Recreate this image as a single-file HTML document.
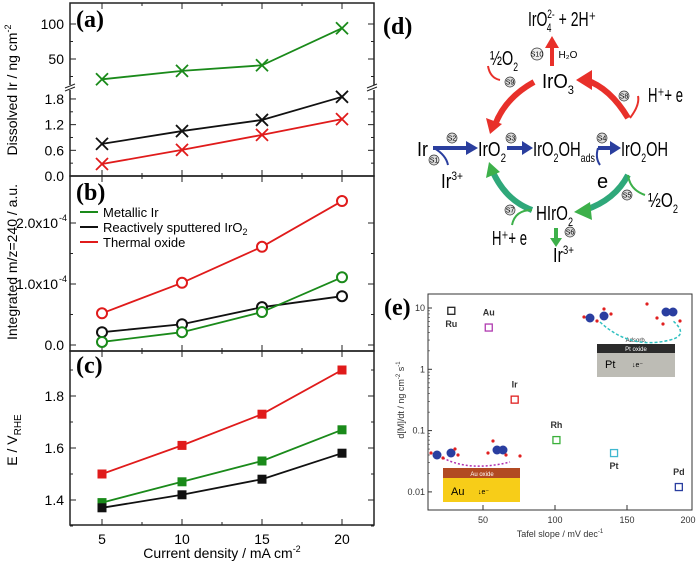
<!DOCTYPE html>
<html><head><meta charset="utf-8"><style>
body{margin:0;background:#fff}
svg{display:block;font-family:"Liberation Sans",sans-serif}
.d{font-family:"Liberation Sans",sans-serif}
.pl{font-family:"Liberation Serif",serif;font-weight:bold;font-size:24px}
</style></head><body>
<svg id="s" width="700" height="562" viewBox="0 0 700 562">
<g id="left"></g>
<g id="d" class="d">
<text x="383" y="34" class="pl">(d)</text>
<text x="528" y="26" font-size="20" textLength="68" lengthAdjust="spacingAndGlyphs">IrO<tspan font-size="12" dy="6" dx="-1">4</tspan><tspan font-size="12" dy="-14" dx="-6">2-</tspan><tspan dy="8"> + 2H⁺</tspan></text>
<text x="542" y="88" font-size="20" textLength="32" lengthAdjust="spacingAndGlyphs">IrO<tspan font-size="12" dy="6">3</tspan></text>
<text x="490" y="65" font-size="20" textLength="28" lengthAdjust="spacingAndGlyphs">½O<tspan font-size="12" dy="6">2</tspan></text>
<text x="648" y="102" font-size="20" textLength="35" lengthAdjust="spacingAndGlyphs">H⁺+ e</text>
<text x="417" y="156" font-size="20" textLength="11" lengthAdjust="spacingAndGlyphs">Ir</text>
<text x="478" y="156" font-size="20" textLength="28" lengthAdjust="spacingAndGlyphs">IrO<tspan font-size="12" dy="6">2</tspan></text>
<text x="533" y="156" font-size="20" textLength="62" lengthAdjust="spacingAndGlyphs">IrO<tspan font-size="12" dy="6">2</tspan><tspan dy="-6">OH</tspan><tspan font-size="12" dy="6">ads</tspan></text>
<text x="621" y="156" font-size="20" textLength="47" lengthAdjust="spacingAndGlyphs">IrO<tspan font-size="12" dy="6">2</tspan><tspan dy="-6">OH</tspan></text>
<text x="597" y="188" font-size="20">e</text>
<text x="441" y="188" font-size="20" textLength="22" lengthAdjust="spacingAndGlyphs">Ir<tspan font-size="12" dy="-8">3+</tspan></text>
<text x="648" y="207" font-size="20" textLength="30" lengthAdjust="spacingAndGlyphs">½O<tspan font-size="12" dy="6">2</tspan></text>
<text x="536" y="220" font-size="20" textLength="37" lengthAdjust="spacingAndGlyphs">HIrO<tspan font-size="12" dy="6">2</tspan></text>
<text x="492" y="245" font-size="20" textLength="35" lengthAdjust="spacingAndGlyphs">H⁺+ e</text>
<text x="553" y="262" font-size="20" textLength="21" lengthAdjust="spacingAndGlyphs">Ir<tspan font-size="12" dy="-8">3+</tspan></text>
<g fill="none" stroke-width="6">
<path d="M628 118 Q610 88 586 80" stroke="#e8302a"/>
<path d="M534 82 Q505 98 495 125" stroke="#e8302a"/>
<path d="M628 175 Q615 200 585 210" stroke="#2fa87a"/>
<path d="M532 210 Q505 200 492 170" stroke="#2fa87a"/>
<path d="M433 148 L470 148" stroke="#2a3e9e" stroke-width="4"/>
<path d="M507 148 L528 148" stroke="#2a3e9e" stroke-width="4"/>
<path d="M598 148 L616 148" stroke="#2a3e9e" stroke-width="4"/>
<path d="M552 66 L552 45" stroke="#e8302a" stroke-width="4"/>
<path d="M556 228 L556 240" stroke="#3db04a" stroke-width="4"/>
</g>
<g stroke-width="2" fill="none">
<path d="M500 80 Q490 78 488 66" stroke="#e8302a"/><path d="M630 118 Q640 105 638 96" stroke="#e8302a"/>
<path d="M434 148 Q446 155 448 165" stroke="#2a3e9e"/><path d="M598 148 Q595 158 600 165" stroke="#2a3e9e"/>
<path d="M628 175 Q630 190 645 195" stroke="#3db04a"/><path d="M532 210 Q515 210 512 225" stroke="#3db04a"/>
</g>
<g fill="#e8302a"><polygon points="576,80 592,70 592,90"/><polygon points="490,134 486,118 502,124"/><polygon points="552,36 545,48 559,48"/></g>
<g fill="#3db04a"><polygon points="574,212 590,202 592,220"/><polygon points="489,162 486,178 500,172"/><polygon points="556,247 550,238 562,238"/></g>
<g fill="#2a3e9e"><polygon points="478,148 466,141 466,155"/><polygon points="533,148 522,141 522,155"/><polygon points="621,148 610,141 610,155"/></g>
<g font-size="7" font-family="Liberation Sans" text-anchor="middle">
<circle cx="452" cy="138" r="5" fill="#ddd" stroke="#333" stroke-width="0.7"/><text x="452" y="140.5">S2</text>
<circle cx="434" cy="160" r="5" fill="#ddd" stroke="#333" stroke-width="0.7"/><text x="434" y="162.5">S1</text>
<circle cx="511" cy="138" r="5" fill="#ddd" stroke="#333" stroke-width="0.7"/><text x="511" y="140.5">S3</text>
<circle cx="602" cy="138" r="5" fill="#ddd" stroke="#333" stroke-width="0.7"/><text x="602" y="140.5">S4</text>
<circle cx="627" cy="195" r="5" fill="#ddd" stroke="#333" stroke-width="0.7"/><text x="627" y="197.5">S5</text>
<circle cx="570" cy="232" r="5" fill="#ddd" stroke="#333" stroke-width="0.7"/><text x="570" y="234.5">S6</text>
<circle cx="510" cy="210" r="5" fill="#ddd" stroke="#333" stroke-width="0.7"/><text x="510" y="212.5">S7</text>
<circle cx="624" cy="96" r="5" fill="#ddd" stroke="#333" stroke-width="0.7"/><text x="624" y="98.5">S8</text>
<circle cx="510" cy="82" r="5" fill="#ddd" stroke="#333" stroke-width="0.7"/><text x="510" y="84.5">S9</text>
<circle cx="537" cy="54" r="6" fill="#eee" stroke="#333" stroke-width="0.7"/><text x="537" y="56.5">S10</text>
<text x="568" y="58" font-size="10">H₂O</text>
</g>
</g>
<g id="e"></g>
</svg>
<script>
const xCats=[5,10,15,20];
const aGreen=[21,33,41,94];
const aBlack=[0.75,1.05,1.31,1.85];
const aRed=[0.28,0.61,0.96,1.33];
const bRed=[0.52,1.02,1.61,2.36];
const bBlack=[0.21,0.34,0.62,0.80];
const bGreen=[0.05,0.21,0.54,1.11];
const cRed=[1.50,1.61,1.73,1.90];
const cGreen=[1.39,1.47,1.55,1.67];
const cBlack=[1.37,1.42,1.48,1.58];
const aLowTicks=[0,0.6,1.2,1.8];
const aHighTicks=[50,100];
const bTicks=[0,1,2];
const cTicks=[1.4,1.6,1.8];
const eNames=["Ru","Au","Ir","Rh","Pt","Pd"];
const eX=[28,54,72,101,141,186];
const eY=[9,4.8,0.32,0.07,0.043,0.012];
const eColors=["#222","#b03ab0","#e02020","#3ab03a","#40b8d0","#2a3ea0"];
const eXTicks=[50,100,150,200];
const eYTicks=[0.01,0.1,1,10];
const eYLabels=["0.01","0.1","1","10"];

const NS="http://www.w3.org/2000/svg";
function mk(p,t,a,txt){const e=document.createElementNS(NS,t);for(const k in a)e.setAttribute(k,a[k]);if(txt!=null)e.textContent=txt;p.appendChild(e);return e;}
const L=document.getElementById('left');
const X=v=>102+(v-5)*16;
const GREEN="#1a8a1a",BLACK="#111",RED="#e01b1b";
const ayLow=v=>176-v*42.8, ayHigh=v=>59-(v-50)*0.7;
const ay=v=>v>10?ayHigh(v):ayLow(v);
const by=v=>345-v*61;
const cy=v=>500-(v-1.4)*260;
[[3,176],[176,351],[351,525]].forEach(([t,b],i)=>{
 const r=mk(L,'rect',{x:70,y:t,width:304,height:b-t,fill:'none',stroke:'#222','stroke-width':1.5});
 
 for(let v=5;v<=20;v+=2.5){const len=(v%5==0)?6:3;
  mk(L,'line',{x1:X(v),x2:X(v),y1:b,y2:b-len,stroke:'#222'});mk(L,'line',{x1:X(v),x2:X(v),y1:t,y2:t+len,stroke:'#222'});}
});
function ytick(y,label,minor){mk(L,'line',{x1:70,x2:minor?73:76,y1:y,y2:y,stroke:'#222'});mk(L,'line',{x1:374,x2:minor?371:368,y1:y,y2:y,stroke:'#222'});
 if(label!=null){const t=mk(L,'text',{x:64,y:y+5,'text-anchor':'end','font-size':14},label);}}
aLowTicks.forEach(v=>ytick(ayLow(v),v.toFixed(1)));
[0.3,0.9,1.5].forEach(v=>ytick(ayLow(v),null,true));
aHighTicks.forEach(v=>ytick(ayHigh(v),String(v)));
[25,75].forEach(v=>ytick(ayHigh(v),null,true));
mk(L,'rect',{x:66,y:85,width:10,height:5,fill:'#fff'});mk(L,'rect',{x:368,y:85,width:10,height:5,fill:'#fff'});
mk(L,'path',{d:'M65 88 l10 -4 M65 91 l10 -4 M367 88 l10 -4 M367 91 l10 -4',stroke:'#222'});
bTicks.forEach(v=>ytick(by(v),v==0?'0.0':null));
[0.5,1.5].forEach(v=>ytick(by(v),null,true));
[[1,'1.0x10'],[2,'2.0x10']].forEach(([v,s])=>{const t=mk(L,'text',{x:58,y:by(v)+5,'text-anchor':'end','font-size':14},s);mk(L,'text',{x:59,y:by(v)-2,'font-size':9},'-4');});
cTicks.forEach(v=>ytick(cy(v),v.toFixed(1)));
[1.3,1.5,1.7,1.9].forEach(v=>ytick(cy(v),null,true));
xCats.forEach(v=>{const t=mk(L,'text',{x:X(v),y:544,'text-anchor':'middle','font-size':14},String(v));});
function series(vals,yf,col,mark,name){
 const d=vals.map((v,i)=>(i?'L':'M')+X(xCats[i])+' '+yf(v)).join(' ');
 const p=mk(L,'path',{d,fill:'none',stroke:col,'stroke-width':1.8});
 vals.forEach((v,i)=>{const x=X(xCats[i]),y=yf(v);let m;
  if(mark=='x')m=mk(L,'path',{d:`M${x-6} ${y-6}L${x+6} ${y+6}M${x-6} ${y+6}L${x+6} ${y-6}`,stroke:col,'stroke-width':1.8});
  else if(mark=='o')m=mk(L,'circle',{cx:x,cy:y,r:5,fill:'#fff',stroke:col,'stroke-width':2});
  else m=mk(L,'rect',{x:x-4.5,y:y-4.5,width:9,height:9,fill:col});
  });
}
series(aGreen,ay,GREEN,'x','a-metallic-ir');series(aBlack,ay,BLACK,'x','a-sputtered-iro2');series(aRed,ay,RED,'x','a-thermal-oxide');
series(bRed,by,RED,'o','b-thermal-oxide');series(bBlack,by,BLACK,'o','b-sputtered-iro2');series(bGreen,by,GREEN,'o','b-metallic-ir');
series(cRed,cy,RED,'s','c-thermal-oxide');series(cGreen,cy,GREEN,'s','c-metallic-ir');series(cBlack,cy,BLACK,'s','c-sputtered-iro2');
[['(a)',27],['(b)',200],['(c)',373]].forEach(([s,y])=>{const t=mk(L,'text',{x:76,y,class:'pl'},s);});
[[GREEN,'Metallic Ir',212],[BLACK,'Reactively sputtered IrO',227],[RED,'Thermal oxide',242]].forEach(([c,s,y],i)=>{
 const g=mk(L,'g',{});
 mk(g,'line',{x1:80,x2:98,y1:y,y2:y,stroke:c,'stroke-width':2});const t=mk(g,'text',{x:103,y:y+5,'font-size':13},s);
 if(i==1)mk(t,'tspan',{'font-size':9,dy:3},'2');});
function ylab(x,y,html,name){const t=mk(L,'text',{transform:`translate(${x},${y}) rotate(-90)`,'text-anchor':'middle','font-size':14});t.innerHTML=html;}
ylab(17,90,'Dissolved Ir / ng cm<tspan font-size="9" dy="-6">-2</tspan>','y-axis-title-a');
ylab(17,262,'Integrated m/z=240 / a.u.','y-axis-title-b');
ylab(17,440,'E / V<tspan font-size="10" dy="4">RHE</tspan>','y-axis-title-c');
const xt=mk(L,'text',{x:222,y:558,'text-anchor':'middle','font-size':14});xt.innerHTML='Current density / mA cm<tspan font-size="9" dy="-6">-2</tspan>';


const E=document.getElementById('e');
const ex=v=>411+v*1.44, ey=v=>308-(Math.log10(v)-1)*61.3;
mk(E,'rect',{x:428,y:294,width:264,height:216,fill:'none',stroke:'#333','stroke-width':1});
eXTicks.forEach(v=>{const x=ex(v);if(x<=693){mk(E,'line',{x1:x,x2:x,y1:510,y2:505,stroke:'#333'});}
 const t=mk(E,'text',{x:Math.min(x,688),y:523,'text-anchor':'middle','font-size':9,fill:'#333'},String(v));});
eYTicks.forEach((v,i)=>{const y=ey(v);mk(E,'line',{x1:428,x2:432,y1:y,y2:y,stroke:'#333'});
 for(let k=2;k<10&&i<3;k++){const yy=ey(v*k);mk(E,'line',{x1:428,x2:430,y1:yy,y2:yy,stroke:'#333','stroke-width':0.6});}
 const t=mk(E,'text',{x:425,y:y+3,'text-anchor':'end','font-size':9,fill:'#333'},eYLabels[i]);});
mk(E,'rect',{x:443,y:468,width:77,height:34,fill:'#f7cd18'});mk(E,'rect',{x:443,y:468,width:77,height:10,fill:'#b24a22'});
mk(E,'text',{x:482,y:476,'font-size':6,fill:'#fff','text-anchor':'middle'},'Au oxide');mk(E,'text',{x:451,y:495,'font-size':11},'Au');mk(E,'text',{x:478,y:494,'font-size':7},'↓e⁻');
mk(E,'rect',{x:597,y:344,width:78,height:33,fill:'#bdbcb5'});mk(E,'rect',{x:597,y:344,width:78,height:9,fill:'#2b2b2b'});
mk(E,'text',{x:636,y:351,'font-size':6,fill:'#fff','text-anchor':'middle'},'Pt oxide');mk(E,'text',{x:605,y:368,'font-size':11},'Pt');mk(E,'text',{x:632,y:367,'font-size':7},'↓e⁻');
mk(E,'text',{x:636,y:342,'font-size':6,fill:'#333','text-anchor':'middle'},'Adsorb.');
mk(E,'path',{d:'M600 322 Q630 350 670 340 Q690 335 672 320',fill:'none',stroke:'#30c0c0','stroke-dasharray':'3 2','stroke-width':1.5});
mk(E,'path',{d:'M443 458 Q470 472 510 462',fill:'none',stroke:'#b030b0','stroke-dasharray':'2 2','stroke-width':1.5});
[[437,455],[451,453],[497,450],[503,450],[590,318],[604,316],[666,312],[673,312]].forEach(([x,y])=>mk(E,'circle',{cx:x,cy:y,r:4.5,fill:'#2a3ea0'}));
[[431,453],[443,458],[455,449],[458,455],[493,441],[488,453],[506,455],[520,456],[584,317],[597,321],[604,309],[611,314],[647,304],[657,318],[663,324],[680,321]].forEach(([x,y])=>mk(E,'circle',{cx:x,cy:y,r:1.6,fill:'#e02020'}));
eNames.forEach((n,i)=>{const x=ex(eX[i]),y=ey(eY[i]);
 const r=mk(E,'rect',{x:x-3.5,y:y-3.5,width:7,height:7,fill:'#fff',stroke:eColors[i],'stroke-width':1.3});
 
 const below=(n=='Ru'||n=='Pt');
 const t=mk(E,'text',{x:x,y:below?y+16:y-12,'text-anchor':'middle','font-size':9,'font-weight':'bold',fill:'#333'},n);
 });
const ep=mk(E,'text',{x:384,y:315,class:'pl'},'(e)');
const eyl=mk(E,'text',{transform:'translate(404,400) rotate(-90)','text-anchor':'middle','font-size':9,fill:'#333'});eyl.innerHTML='d[M]/dt / ng cm<tspan font-size="6" dy="-4">-2</tspan><tspan dy="4"> s</tspan><tspan font-size="6" dy="-4">-1</tspan>';

const exl=mk(E,'text',{x:560,y:537,'text-anchor':'middle','font-size':9,fill:'#333'});exl.innerHTML='Tafel slope / mV dec<tspan font-size="6" dy="-4">-1</tspan>';

</script>
</body></html>
